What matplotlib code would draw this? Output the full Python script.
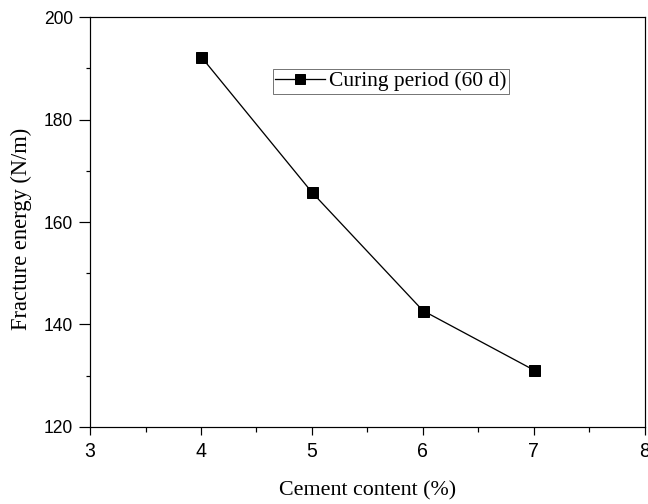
import matplotlib
matplotlib.use("Agg")
import matplotlib.pyplot as plt
from matplotlib.ticker import MultipleLocator

# data
cement = [4, 5, 6, 7]
energy = [192.3, 165.8, 142.7, 131.1]
series_label = "Curing period (60 d)"

fig = plt.figure(figsize=(9, 7), dpi=72)
ax = fig.add_axes([0.139, 0.153, 0.856, 0.813])

ax.plot(cement, energy, color="black", lw=1.3, marker="s", ms=11,
        mfc="black", mec="black", label=series_label)

ax.set_xlim(3, 8)
ax.set_ylim(120, 200)
ax.xaxis.set_major_locator(MultipleLocator(1))
ax.xaxis.set_minor_locator(MultipleLocator(0.5))
ax.yaxis.set_major_locator(MultipleLocator(20))
ax.yaxis.set_minor_locator(MultipleLocator(10))

ax.tick_params(which="both", direction="out", top=False, right=False, width=1.2)
ax.tick_params(axis="x", which="major", length=8, pad=7, labelsize=19.5)
ax.tick_params(axis="x", which="minor", length=5)
ax.tick_params(axis="y", which="major", length=11, pad=6, labelsize=17.5)
ax.tick_params(axis="y", which="minor", length=4)
for lab in ax.get_xticklabels() + ax.get_yticklabels():
    lab.set_family("Liberation Sans")
for sp in ax.spines.values():
    sp.set_linewidth(1.2)

ax.set_xlabel("Cement content (%)", family="Liberation Serif", fontsize=22)
ax.set_ylabel("Fracture energy (N/m)", family="Liberation Serif", fontsize=22.5)
ax.xaxis.set_label_coords(0.5, -0.132)
ax.yaxis.set_label_coords(-0.104, 0.483)

leg = ax.legend(loc="upper left", bbox_to_anchor=(0.33, 0.873),
                prop={"family": "Liberation Serif", "size": 21.5},
                fancybox=False, edgecolor="#555555", framealpha=1,
                handlelength=2.3, borderpad=0.1, borderaxespad=0,
                handletextpad=0.2, markerscale=0.9)
leg.get_frame().set_linewidth(0.8)

fig.savefig("out.png", dpi=72)
